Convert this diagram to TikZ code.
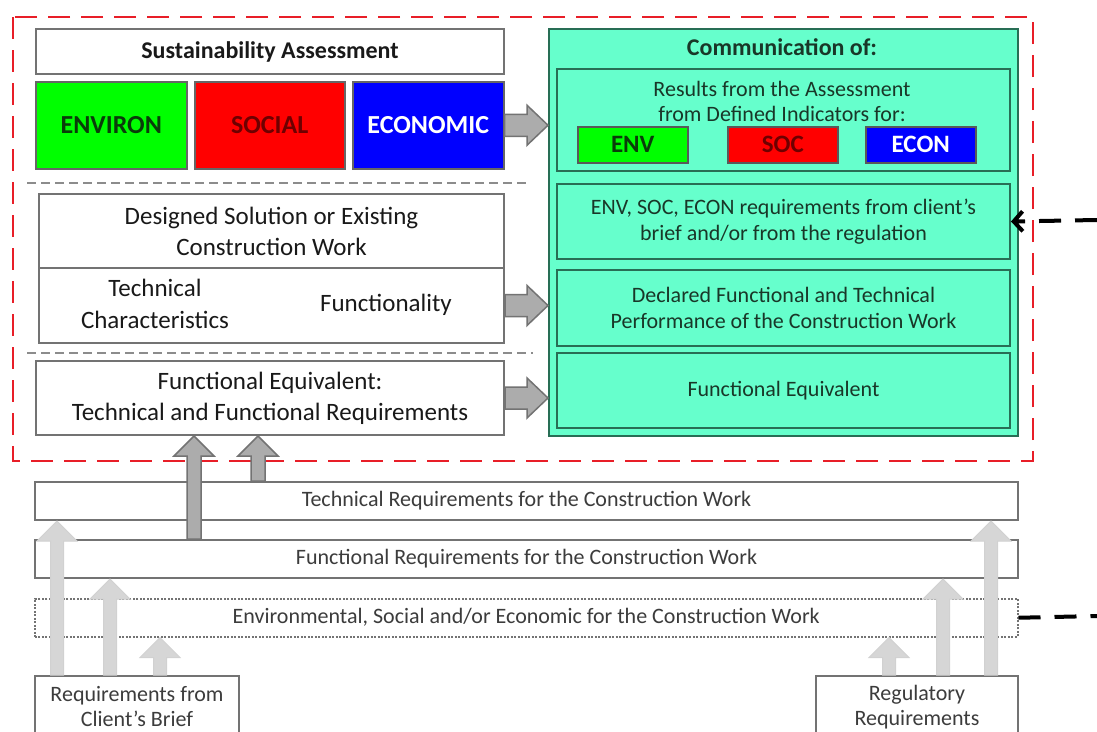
\documentclass[tikz,border=0pt]{standalone}
\usepackage{fontspec}
\setmainfont{Carlito}
\usetikzlibrary{arrows.meta,calc}

\definecolor{boxgray}{RGB}{115,115,115}
\definecolor{framered}{RGB}{232,30,40}
\definecolor{aqua}{RGB}{102,255,204}
\definecolor{tealline}{RGB}{40,110,85}
\definecolor{envgreen}{RGB}{0,255,0}
\definecolor{socred}{RGB}{255,0,0}
\definecolor{ecoblue}{RGB}{0,0,255}
\definecolor{arrowdark}{RGB}{172,172,172}
\definecolor{arrowlight}{RGB}{214,214,214}
\definecolor{txtdark}{RGB}{25,25,25}
\definecolor{txtgray}{RGB}{60,60,60}
\definecolor{txtgreen}{RGB}{25,55,40}
\definecolor{envtext}{RGB}{10,60,10}
\definecolor{soctext}{RGB}{110,0,0}

\tikzset{every picture/.style={line width=0.75pt}}

% block arrow pointing right, from #2 to the x of #3
\newcommand{\rblock}[3]{%
  \draw[#1] let \p1=(#2), \p2=(#3) in
    (\x1,\y1+11pt) -- (\x2-21pt,\y1+11pt) -- (\x2-21pt,\y1+20pt) -- (\x2,\y1)
    -- (\x2-21pt,\y1-20pt) -- (\x2-21pt,\y1-11pt) -- (\x1,\y1-11pt) -- cycle;}
% block arrow pointing up, from #2 to the y of #3, shaft half width #4
\newcommand{\ublock}[4]{%
  \draw[#1] let \p1=(#2), \p2=(#3) in
    (\x1-#4,\y1) -- (\x1-#4,\y2-20pt) -- (\x1-20pt,\y2-20pt) -- (\x1,\y2)
    -- (\x1+20pt,\y2-20pt) -- (\x1+#4,\y2-20pt) -- (\x1+#4,\y1) -- cycle;}

\begin{document}
\begin{tikzpicture}[x=1pt,y=-1pt,
  wbox/.style={draw=boxgray, fill=white, line width=2pt, anchor=north west, inner sep=0pt, align=center, text=txtdark, font=\fontsize{25}{31}\selectfont},
  cbox/.style={draw=black!60, line width=1.5pt, anchor=north west, inner sep=0pt, font=\bfseries\fontsize{26}{30}\selectfont},
  gbox/.style={draw=tealline, fill=aqua, line width=2pt, anchor=north west, inner sep=0pt, align=center, text=txtgreen, font=\fontsize{22}{26}\selectfont},
  ibox/.style={draw=black!65, line width=1.5pt, anchor=north west, inner sep=0pt, minimum width=110, minimum height=36, font=\bfseries\fontsize{25}{29}\selectfont},
  bar/.style={draw=boxgray, fill=white, line width=2pt, anchor=north west, inner sep=0pt, minimum width=983, minimum height=38, text=txtgray, font=\fontsize{22}{26}\selectfont},
  txt/.style={inner sep=0pt, align=center, text=txtdark, font=\fontsize{25}{32}\selectfont},
  blkright/.style={fill=arrowdark, draw=boxgray, line width=1.5pt},
  blkdark/.style={fill=arrowdark, draw=black!55, line width=1.5pt},
  blklight/.style={fill=arrowlight, draw=black!18, line width=1pt},
  sepline/.style={draw=black!45, line width=1.5pt, dash pattern=on 9pt off 5pt},
  extline/.style={draw=black, line width=4pt, dash pattern=on 22pt off 14pt}]
	\clip (0,0) rectangle (1097,731);
	\fill[white] (0,0) rectangle (1097,731);
	
	% Red frame
	\draw[framered, line width=2.5pt, dash pattern=on 22pt off 11pt] (13,17) rectangle (1033,461);
	
	% Sustainability assessment
	\node[wbox, minimum width=468, minimum height=45, font=\bfseries\fontsize{24}{28}\selectfont] (sa) at (35,28) {Sustainability Assessment};
	\node[cbox, fill=envgreen, text=envtext, minimum width=151, minimum height=87] (env) at (35,81) {ENVIRON};
	\node[cbox, fill=socred, text=soctext, minimum width=150, minimum height=87] (soc) at (194,81) {SOCIAL};
	\node[cbox, fill=ecoblue, text=white, minimum width=151, minimum height=87] (eco) at (352,81) {ECONOMIC};
	
	% Separators
	\draw[sepline] (27,183) -- (530,183);
	\draw[sepline] (27,353) -- (533,353);
	
	% Designed solution
	\node[wbox, minimum width=465, minimum height=74] (ds1) at (38,193) {Designed Solution or Existing\\Construction Work};
	\node[wbox, minimum width=465, minimum height=75] (ds2) at (38,267) {};
	% Text Node
	\node[txt] (tc) at (155,304) {Technical\\Characteristics};
	% Text Node
	\node[txt] (fu) at (386,305) {Functionality};
	
	% Functional equivalent
	\node[wbox, minimum width=468, minimum height=74] (fe) at (35,360) {Functional Equivalent:\\Technical and Functional Requirements};
	
	% Communication
	\node[gbox, minimum width=469, minimum height=407] (comm) at (548,28) {};
	% Text Node
	\node[txt, text=txtgreen, font=\bfseries\fontsize{24}{28}\selectfont] (ct) at (782,47) {Communication of:};
	\node[gbox, minimum width=453, minimum height=102] (ib1) at (556,68) {};
	% Text Node
	\node[txt, text=txtgreen, font=\fontsize{22}{25}\selectfont] (res) at (782,101) {Results from the Assessment\\from Defined Indicators for:};
	\node[ibox, fill=envgreen, text=envtext] (envi) at (577,126) {ENV};
	\node[ibox, fill=socred, text=soctext] (soci) at (727,126) {SOC};
	\node[ibox, fill=ecoblue, text=white] (ecoi) at (865,126) {ECON};
	\node[gbox, minimum width=453, minimum height=75] (ib2) at (556,183) {ENV, SOC, ECON requirements from client’s\\brief and/or from the regulation};
	\node[gbox, minimum width=453, minimum height=76] (ib3) at (556,269) {Declared Functional and Technical\\Performance of the Construction Work};
	\node[gbox, minimum width=453, minimum height=75] (ib4) at (556,352) {Functional Equivalent};
	
	% Requirement bars
	\node[bar] (tr) at (34,481) {Technical Requirements for the Construction Work};
	\node[bar] (fr) at (34,539) {Functional Requirements for the Construction Work};
	\node[bar, dash pattern=on 2pt off 1.5pt, line width=1.5pt] (er) at (34,598) {Environmental, Social and/or Economic for the Construction Work};
	
	% Sources
	\node[bar, minimum width=204, minimum height=62, align=center, font=\fontsize{22}{25}\selectfont] (cb) at (34,675) {Requirements from\\Client’s Brief};
	\node[bar, minimum width=202, minimum height=62, align=center, font=\fontsize{22}{25}\selectfont] (rb) at (815,675) {Regulatory\\Requirements};
	
	% Block arrows to the communication
	\rblock{blkright}{eco.east}{comm.west}
	\rblock{blkright}{ds2.east}{comm.west}
	\rblock{blkright}{fe.east}{comm.west}
	
	% Block arrows up to the functional equivalent
	\ublock{blkdark}{$(fr.north west)+(160,0)$}{fe.south}{7pt}
	\ublock{blkdark}{$(tr.north west)+(224,0)$}{fe.south}{7pt}
	
	% Block arrows from the sources
	\ublock{blklight}{$(cb.north west)+(23,0)$}{tr.south}{6.5pt}
	\ublock{blklight}{$(cb.north west)+(76,0)$}{fr.south}{6.5pt}
	\ublock{blklight}{$(cb.north west)+(126,0)$}{er.south}{6.5pt}
	\ublock{blklight}{$(rb.north west)+(74,0)$}{er.south}{6.5pt}
	\ublock{blklight}{$(rb.north west)+(128,0)$}{fr.south}{6.5pt}
	\ublock{blklight}{$(rb.north west)+(176,0)$}{tr.south}{6.5pt}
	
	% Links from outside
	\coordinate (inR) at (1097,220);
	\coordinate (inE) at (1097,616);
	\draw[extline, -{Straight Barb[length=9pt,width=20pt]}] (inR) -- (ib2.east);
	\draw[extline] (er.east) -- (inE);
	
\end{tikzpicture}
\end{document}
